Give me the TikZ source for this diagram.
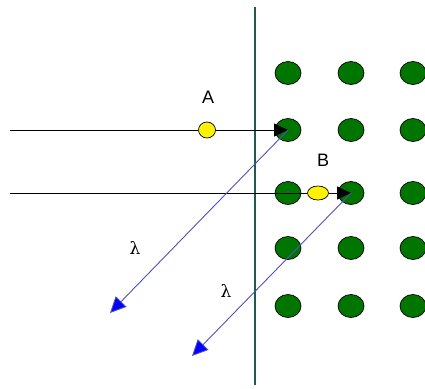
\documentclass[tikz,border=0pt]{standalone}
\usepackage{fontspec}
\setmainfont{Liberation Sans}
\newfontfamily\lamfont{DejaVu Serif}
\usetikzlibrary{arrows.meta,shapes.geometric}
\definecolor{dotgreen}{RGB}{0,118,0}
\definecolor{raycol}{RGB}{80,80,190}
\definecolor{wallcol}{RGB}{30,90,80}
\begin{document}
\begin{tikzpicture}[x=1pt,y=-1pt,
  atom/.style={ellipse,draw=black,line width=0.7pt,fill=dotgreen,minimum width=26pt,minimum height=23pt,inner sep=0pt},
  probe/.style={ellipse,draw=black,line width=0.7pt,fill=yellow,inner sep=0pt},
  incident/.style={line width=1pt,-{Triangle[length=14pt,width=13pt]}},
  reflected/.style={raycol,line width=0.9pt,-{Triangle[length=16pt,width=15pt,fill=blue]}},
  lbl/.style={font=\fontsize{18}{18}\selectfont,inner sep=0pt},
  lam/.style={font=\lamfont\fontsize{17}{17}\selectfont,inner sep=0pt}]
\useasboundingbox (0,0) rectangle (425,388);
\coordinate (wtop) at (255,7);
\coordinate (wbot) at (255,385);
\draw[line width=1.3pt,wallcol] (wtop) -- (wbot);
\foreach \c/\x in {1/288,2/351,3/413}{
  \foreach \r/\y in {1/73,2/130,3/193,4/248,5/306}{
    \node[atom] (d\c\r) at (\x,\y) {};
  }
}
\coordinate (sA) at (10,130);
\coordinate (sB) at (10,193);
\node[probe,minimum width=17pt,minimum height=16pt] (A) at (207,130) {};
\node[probe,minimum width=21pt,minimum height=14pt] (B) at (318,193) {};
\node[lbl] (lA) at (208,97) {A};
\node[lbl] (lB) at (323,160) {B};
\draw[incident] (sA) -- (A) -- (d12.center);
\draw[incident] (sB) -- (B) -- (d23.center);
\coordinate (eA) at (110,313);
\coordinate (eB) at (192,356);
\draw[reflected] (d12.center) -- (eA);
\draw[reflected] (d23.center) -- (eB);
\node[lam] (l1) at (135,248) {λ};
\node[lam] (l2) at (226,291) {λ};
\end{tikzpicture}
\end{document}
